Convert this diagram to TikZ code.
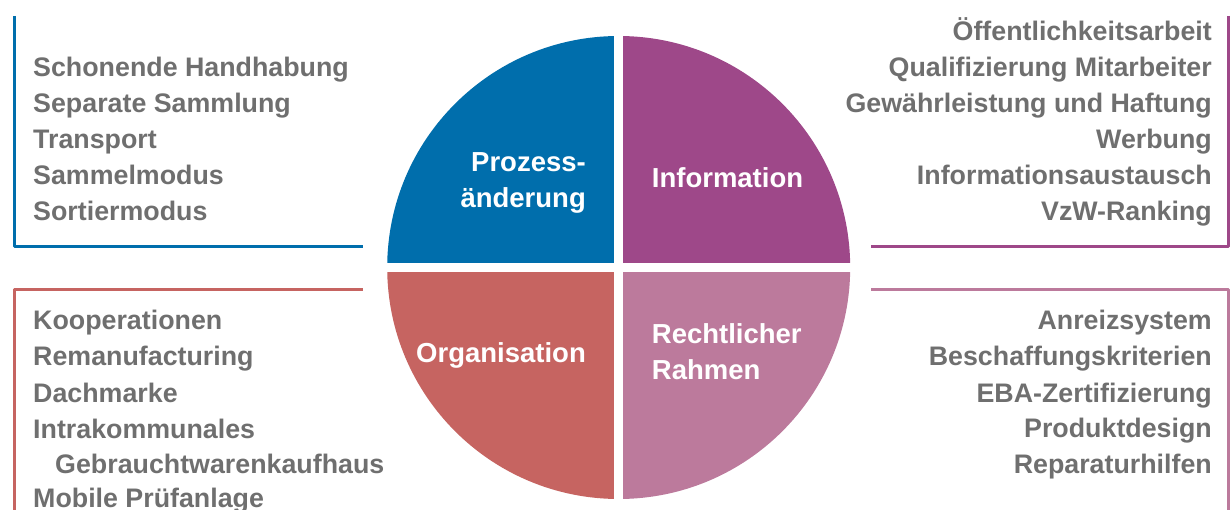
\documentclass[tikz,border=0pt]{standalone}
\usepackage{fontspec}
\setmainfont{Liberation Sans}
\definecolor{cblue}{HTML}{006EAC}
\definecolor{cpurple}{HTML}{9E4889}
\definecolor{cred}{HTML}{C66461}
\definecolor{cpink}{HTML}{BC7A9C}
\definecolor{cgray}{HTML}{6F6F6F}
\begin{document}
\begin{tikzpicture}[x=1pt,y=-1pt,
  item/.style={inner sep=0pt, text=cgray, font=\bfseries\fontsize{26.8}{30}\selectfont},
  quad/.style={inner sep=0pt, text=white, font=\bfseries\fontsize{27.5}{30}\selectfont},
  bracket/.style={line width=3pt, line join=round}]
\useasboundingbox (0,0) rectangle (1232,510);
% circle quadrants
\coordinate (c) at (618.7,267.5);
\begin{scope}
  \clip (c) rectangle (380,30);
  \fill[cblue] (c) circle[radius=231.5];
\end{scope}
\begin{scope}
  \clip (c) rectangle (860,30);
  \fill[cpurple] (c) circle[radius=231.5];
\end{scope}
\begin{scope}
  \clip (c) rectangle (860,505);
  \fill[cpink] (c) circle[radius=231.5];
\end{scope}
\begin{scope}
  \clip (c) rectangle (380,505);
  \fill[cred] (c) circle[radius=231.5];
\end{scope}
\draw[white, line width=9.5pt] (618.7,30) -- (618.7,505);
\draw[white, line width=9.5pt] (380,267.5) -- (857,267.5);
% brackets
\coordinate (tl1) at (14,16); \coordinate (tl2) at (14,247); \coordinate (tl3) at (363,247);
\coordinate (tr1) at (1228,16); \coordinate (tr2) at (1228,247); \coordinate (tr3) at (871,247);
\coordinate (bl1) at (14,290); \coordinate (bl2) at (363,290); \coordinate (bl3) at (14,512);
\coordinate (br1) at (871,290); \coordinate (br2) at (1228,290); \coordinate (br3) at (1228,512);
\draw[bracket, cblue] (tl1) -- (tl2) -- (tl3);
\draw[bracket, cpurple] (tr1) -- (tr2) -- (tr3);
\draw[bracket, cred] (bl3) -- (bl1) -- (bl2);
\draw[bracket, cpink] (br1) -- (br2) -- (br3);
% quadrant labels
\node[quad, anchor=base east] (q1a) at (586,171.7) {Prozess-};
\node[quad, anchor=base east] (q1b) at (586,208) {änderung};
\node[quad, anchor=base west] (q2) at (651.7,188) {Information};
\node[quad, anchor=base east] (q3) at (586,363) {Organisation};
\node[quad, anchor=base west] (q4a) at (651.7,344) {Rechtlicher};
\node[quad, anchor=base west] (q4b) at (651.7,380) {Rahmen};
% top left list
\node[item, anchor=base west] (a1) at (33,76.7) {Schonende Handhabung};
\node[item, anchor=base west] (a2) at (33,112.7) {Separate Sammlung};
\node[item, anchor=base west] (a3) at (33,148.7) {Transport};
\node[item, anchor=base west] (a4) at (33,184.7) {Sammelmodus};
\node[item, anchor=base west] (a5) at (33,220.7) {Sortiermodus};
% top right list
\node[item, anchor=base east] (b1) at (1212,40.7) {Öffentlichkeitsarbeit};
\node[item, anchor=base east] (b2) at (1212,76.7) {Qualifizierung Mitarbeiter};
\node[item, anchor=base east] (b3) at (1212,112.7) {Gewährleistung und Haftung};
\node[item, anchor=base east] (b4) at (1212,148.7) {Werbung};
\node[item, anchor=base east] (b5) at (1212,184.7) {Informationsaustausch};
\node[item, anchor=base east] (b6) at (1212,220.7) {VzW-Ranking};
% bottom left list
\node[item, anchor=base west] (c1) at (33,329.5) {Kooperationen};
\node[item, anchor=base west] (c2) at (33,366) {Remanufacturing};
\node[item, anchor=base west] (c3) at (33,402.5) {Dachmarke};
\node[item, anchor=base west] (c4) at (33,438.5) {Intrakommunales};
\node[item, anchor=base west] (c5) at (55,474) {Gebrauchtwarenkaufhaus};
\node[item, anchor=base west] (c6) at (33,507) {Mobile Prüfanlage};
% bottom right list
\node[item, anchor=base east] (d1) at (1212,329.5) {Anreizsystem};
\node[item, anchor=base east] (d2) at (1212,366) {Beschaffungskriterien};
\node[item, anchor=base east] (d3) at (1212,402.5) {EBA-Zertifizierung};
\node[item, anchor=base east] (d4) at (1212,437.5) {Produktdesign};
\node[item, anchor=base east] (d5) at (1212,473) {Reparaturhilfen};
\end{tikzpicture}
\end{document}
